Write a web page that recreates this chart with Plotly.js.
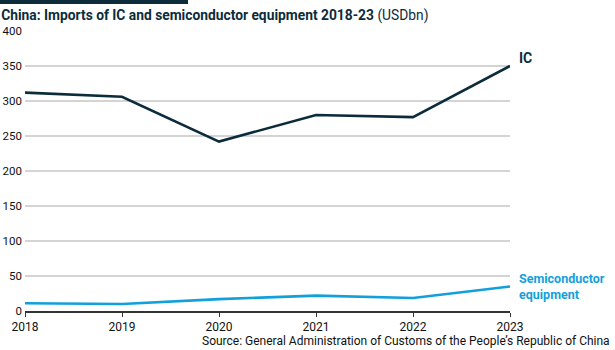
<!DOCTYPE html>
<html>
<head>
<meta charset="utf-8">
<script src="https://cdn.plot.ly/plotly-3.0.1.min.js"></script>
<style>html,body{margin:0;padding:0;background:#fff;}#chart{width:615px;height:350px;}</style>
</head>
<body>
<div id="chart"></div>
<script>
const years = [2018, 2019, 2020, 2021, 2022, 2023];
const icValues = [312, 306, 242, 280, 277, 350];
const semiValues = [11, 10, 17, 22, 18.6, 35];
const yTicks = [0, 50, 100, 150, 200, 250, 300, 350, 400];
const seriesNames = ['IC', 'Semiconductor<br>equipment'];

const navy = '#0c2c3c';
const blue = '#12a0dc';
const font = 'Roboto, sans-serif';

const traces = [
  {x: years, y: icValues, type: 'scatter', mode: 'lines', name: 'IC',
   line: {color: navy, width: 2.6}, hoverinfo: 'skip'},
  {x: years, y: semiValues, type: 'scatter', mode: 'lines', name: 'Semiconductor equipment',
   line: {color: blue, width: 2.6}, hoverinfo: 'skip'}
];

const L = 25, R = 105, T = 31, B = 39, W = 615, H = 350;
const pw = W - L - R, ph = H - T - B;

const layout = {
  width: W, height: H,
  margin: {l: L, r: R, t: T, b: B, pad: 0},
  paper_bgcolor: '#fff', plot_bgcolor: '#fff',
  showlegend: false,
  font: {family: font, color: '#111', size: 12},
  title: {
    text: '<b>China: Imports of IC and semiconductor equipment 2018-23</b> (USDbn)',
    font: {family: font, size: 13.8, color: navy},
    xref: 'container', yref: 'container', x: 0.002, xanchor: 'left', y: 1 - 15/350, yanchor: 'middle'
  },
  xaxis: {
    range: [2018, 2023], tickvals: years, ticktext: years.map(String),
    showgrid: false, zeroline: false, showline: true, linecolor: '#333', linewidth: 2,
    ticks: 'outside', ticklen: 4, tickcolor: '#333', tickwidth: 1,
    tickfont: {family: font, size: 12, color: '#111'}, fixedrange: true
  },
  yaxis: {
    range: [0, 400], tickvals: yTicks, ticktext: yTicks.map(String),
    showgrid: true, gridcolor: '#d4d4d4', gridwidth: 1.5, zeroline: false, showline: false,
    ticks: '', ticklabelstandoff: 2,
    tickfont: {family: font, size: 11.5, color: '#111'}, fixedrange: true
  },
  shapes: [
    {type: 'rect', xref: 'paper', yref: 'paper',
     x0: -L/pw, x1: (188 - L)/pw, y0: 1 + (T - 4)/ph, y1: 1 + T/ph,
     fillcolor: navy, line: {width: 0}}
  ],
  annotations: [
    {x: years[years.length-1], y: icValues[icValues.length-1], xref: 'x', yref: 'y',
     text: '<b>' + seriesNames[0] + '</b>', showarrow: false, xanchor: 'left', yanchor: 'middle',
     xshift: 7, yshift: 8, font: {family: font, size: 14, color: navy}},
    {x: years[years.length-1], y: semiValues[semiValues.length-1], xref: 'x', yref: 'y',
     text: '<b>' + seriesNames[1] + '</b>', showarrow: false, xanchor: 'left', yanchor: 'middle', align: 'left',
     xshift: 7, yshift: 0, font: {family: font, size: 12.5, color: blue}},
    {x: 1, y: 0, xref: 'paper', yref: 'paper', xanchor: 'right', yanchor: 'middle',
     xshift: R - 3, yshift: -30, showarrow: false,
     text: 'Source: General Administration of Customs of the People\u2019s Republic of China',
     font: {family: font, size: 12, color: '#111'}}
  ]
};

Plotly.newPlot('chart', traces, layout, {displayModeBar: false, staticPlot: true});
</script>
</body>
</html>
